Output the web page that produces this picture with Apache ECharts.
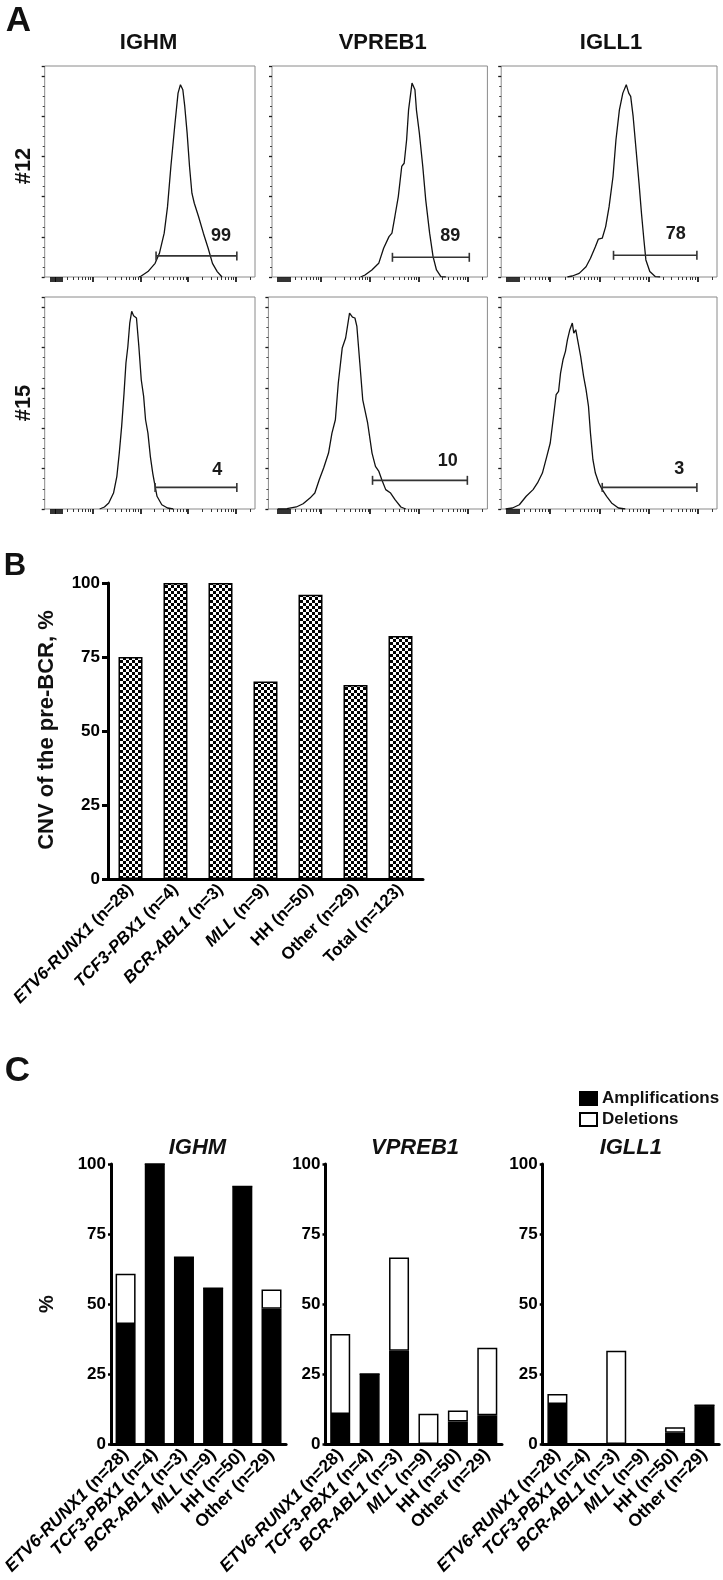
<!DOCTYPE html>
<html><head><meta charset="utf-8">
<script src="https://cdn.jsdelivr.net/npm/echarts@6/dist/echarts.min.js"></script>
<style>html,body{margin:0;padding:0;background:#fff}#c{width:723px;height:1580px}</style>
</head><body><div id="c"></div>
<script>
// ---------- Panel A : flow histograms (x = log decades, y = % of max) ----------
const flowGenes = ['IGHM', 'VPREB1', 'IGLL1'];
const flowSamples = ['#12', '#15'];
const flowMajorTicks = [1.12, 1.16, 1.2, 1.24, 1.28, 1.32, 1.36, 2, 3, 4, 5];
const flowMinorTicks = [1.477, 1.602, 1.699, 1.778, 1.845, 1.903, 1.954,
  2.301, 2.477, 2.602, 2.699, 2.778, 2.845, 2.903, 2.954,
  3.301, 3.477, 3.602, 3.699, 3.778, 3.845, 3.903, 3.954,
  4.301, 4.477, 4.602, 4.699, 4.778, 4.845, 4.903, 4.954, 5.301];

const ighm12X = [2.97, 3.02, 3.16, 3.31, 3.40, 3.50, 3.57, 3.64, 3.72, 3.79, 3.84, 3.89, 3.93, 3.98, 4.03, 4.08, 4.13, 4.22, 4.32, 4.42, 4.51, 4.61, 4.71];
const ighm12Y = [0, 0.5, 2.7, 6.8, 11.8, 21.8, 35, 55, 75, 91.5, 95.7, 93.2, 85, 71.6, 55, 41.7, 36.7, 30, 21.8, 14.3, 6.8, 2.7, 0];
const vpreb112X = [2.81, 2.90, 3.04, 3.18, 3.28, 3.32, 3.39, 3.45, 3.51, 3.58, 3.65, 3.70, 3.75, 3.79, 3.86, 3.92, 3.95, 4.01, 4.08, 4.14, 4.22, 4.29, 4.36, 4.45, 4.55];
const vpreb112Y = [0, 1, 3.5, 6.8, 14.3, 15.1, 20.1, 21.8, 30.1, 40, 55, 56.6, 68.3, 83.2, 96.5, 93.2, 83.2, 71.6, 55, 38.4, 21.8, 10.1, 3.5, 0.2, 0];
const igll112X = [2.35, 2.45, 2.59, 2.73, 2.82, 2.92, 2.98, 3.06, 3.13, 3.20, 3.28, 3.34, 3.41, 3.48, 3.55, 3.60, 3.64, 3.69, 3.75, 3.81, 3.86, 3.91, 3.95, 4.03, 4.14, 4.24];
const igll112Y = [0, 0.5, 1.8, 5.1, 9.3, 15.1, 18.8, 19.3, 25.1, 35, 50, 68.3, 83.2, 91.5, 95.7, 91.5, 89.9, 79.9, 63.3, 46.7, 31.7, 18.4, 8.5, 2.7, 0.2, 0];
const ighm15X = [2.15, 2.25, 2.34, 2.44, 2.51, 2.56, 2.61, 2.66, 2.70, 2.74, 2.78, 2.82, 2.86, 2.89, 2.92, 2.97, 3.02, 3.07, 3.11, 3.16, 3.21, 3.26, 3.31, 3.35, 3.45, 3.57, 3.69];
const ighm15Y = [0, 1, 3, 7.9, 16.2, 27.7, 40.9, 57.4, 72.3, 80.5, 92.1, 97.9, 95.7, 96.2, 94.6, 80.5, 64, 55.8, 44.2, 37.6, 26.1, 17.8, 11.2, 6.3, 2.1, 0.5, 0];
const vpreb115X = [1.11, 1.30, 1.49, 1.63, 1.77, 1.87, 1.96, 2.05, 2.15, 2.22, 2.29, 2.35, 2.43, 2.50, 2.58, 2.64, 2.69, 2.73, 2.79, 2.85, 2.95, 3.04, 3.11, 3.18, 3.24, 3.32, 3.42, 3.51, 3.63, 3.73];
const vpreb115Y = [0, 0.2, 1, 2.6, 5.4, 7.9, 14.5, 20.3, 27.7, 37.6, 44.2, 62.4, 79.7, 84.7, 97, 95, 94.6, 90.4, 72.3, 54.1, 42.6, 27.7, 21.1, 18.6, 14.5, 9.6, 7.9, 4.6, 1, 0];
const igll115X = [1.09, 1.23, 1.37, 1.51, 1.65, 1.74, 1.84, 1.93, 2.00, 2.05, 2.12, 2.17, 2.21, 2.26, 2.31, 2.35, 2.40, 2.45, 2.48, 2.52, 2.56, 2.62, 2.68, 2.73, 2.78, 2.82, 2.87, 2.92, 2.99, 3.06, 3.15, 3.25, 3.39, 3.53];
const igll115Y = [0, 0.5, 2.1, 6.3, 9.6, 12.9, 17.8, 26.1, 32.7, 42.6, 56.6, 58.3, 67.3, 73.9, 78.1, 83.8, 88.8, 92.1, 87.1, 88.8, 88.8, 75.6, 65.7, 59.1, 50.8, 37.6, 24.4, 17.8, 12.9, 9.6, 6.3, 3, 0.5, 0];

const gateStart = [3.33, 3.46, 3.29, 3.31, 3.05, 3.06];
const gateEnd = [5.02, 5.03, 4.99, 5.02, 4.99, 4.99];
const gateLevel = [10.5, 9.8, 10.8, 10.7, 14.2, 10.7];
const gatePct = ['99', '89', '78', '4', '10', '3'];
const gateLabelX = [4.69, 4.64, 4.56, 4.61, 4.59, 4.63];
const gateLabelY = [20.5, 20.3, 21.3, 19.5, 23.6, 19.8];

// ---------- Panel B ----------
const bGroups = ['ETV6-RUNX1', 'TCF3-PBX1', 'BCR-ABL1', 'MLL', 'HH', 'Other', 'Total'];
const bN = [28, 4, 3, 9, 50, 29, 123];
const bItalic = [true, true, true, true, false, false, false];
const bValues = [75, 100, 100, 66.7, 96, 65.5, 82.1];
const pctTicks = [0, 25, 50, 75, 100];

// ---------- Panel C ----------
const cGenes = ['IGHM', 'VPREB1', 'IGLL1'];
const cGroups = ['ETV6-RUNX1', 'TCF3-PBX1', 'BCR-ABL1', 'MLL', 'HH', 'Other'];
const cN = [28, 4, 3, 9, 50, 29];
const ighmAmp = [42.9, 100, 66.7, 55.6, 92, 48.3];
const ighmDel = [17.9, 0, 0, 0, 0, 6.9];
const vpreb1Amp = [10.7, 25, 33.3, 0, 8, 10.3];
const vpreb1Del = [28.6, 0, 33.3, 10.8, 4, 24.1];
const igll1Amp = [14.3, 0, 0, 0, 4, 13.8];
const igll1Del = [3.6, 0, 33.3, 0, 2, 0];

// ---------- build ----------
const FF = '"Liberation Sans", Arial, Helvetica, sans-serif';
const grids = [], xAxes = [], yAxes = [], series = [];

const flowXs = [ighm12X, vpreb112X, igll112X, ighm15X, vpreb115X, igll115X];
const flowYs = [ighm12Y, vpreb112Y, igll112Y, ighm15Y, vpreb115Y, igll115Y];
const flowLayout = [[44.7, 66, 210.3, 211], [272, 66, 215.4, 211], [501.2, 66, 215.8, 211],
                    [44.7, 297, 210.3, 212], [268.4, 297, 219, 212], [501.2, 297, 215.8, 212]];
const flowXMin = [1, 1, 1, 1, 0.92, 1];

flowLayout.forEach((L, i) => {
  grids.push({left: L[0], top: L[1], width: L[2], height: L[3], show: true, borderColor: '#8a8a8a', borderWidth: 1});
  const base = {gridIndex: i, type: 'value', min: flowXMin[i], max: 5.4, position: 'bottom',
    axisLine: {show: false}, axisLabel: {show: false}, splitLine: {show: false}};
  xAxes.push(Object.assign({}, base, {axisTick: {show: true, customValues: flowMajorTicks, length: 5, lineStyle: {color: '#000', width: 1.6}}}));
  xAxes.push(Object.assign({}, base, {axisTick: {show: true, customValues: flowMinorTicks, length: 3, lineStyle: {color: '#333', width: 1}}}));
  yAxes.push({gridIndex: i, type: 'value', min: 0, max: 105, interval: 20,
    axisLine: {show: false}, axisLabel: {show: false}, splitLine: {show: false},
    axisTick: {show: true, length: 3, lineStyle: {color: '#1a1a1a', width: 1.3}},
    minorTick: {show: true, splitNumber: 4, length: 2, lineStyle: {color: '#444', width: 1}},
    minorSplitLine: {show: false}});
  series.push({type: 'line', xAxisIndex: 2 * i, yAxisIndex: i,
    data: flowXs[i].map((x, k) => [x, flowYs[i][k]]), symbol: 'none',
    lineStyle: {color: '#111', width: 1.3}, silent: true});
  series.push({type: 'line', xAxisIndex: 2 * i, yAxisIndex: i,
    data: [[gateStart[i], gateLevel[i]], [gateEnd[i], gateLevel[i]]],
    symbol: 'rect', symbolSize: [1.6, 9], showSymbol: true,
    itemStyle: {color: '#333'}, lineStyle: {color: '#333', width: 1.6}, silent: true});
});

function richFmt(size) {
  return {
    i: {fontStyle: 'italic', fontWeight: 'bold', fontSize: size, fontFamily: FF, color: '#000'},
    n: {fontWeight: 'bold', fontSize: size, fontFamily: FF, color: '#000'}
  };
}
function catFormatter(italicSet) {
  return function (v) {
    const p = v.indexOf(' (');
    const g = v.slice(0, p), r = v.slice(p);
    return italicSet.indexOf(g) >= 0 ? '{i|' + g + '}{n|' + r + '}' : '{n|' + v + '}';
  };
}
const italicNames = bGroups.filter((g, k) => bItalic[k]);

// checker pattern
const pc = document.createElement('canvas');
pc.width = 6; pc.height = 6;
const pg = pc.getContext('2d');
pg.fillStyle = '#fff'; pg.fillRect(0, 0, 6, 6);
pg.fillStyle = '#000'; pg.fillRect(0, 0, 3, 3); pg.fillRect(3, 3, 3, 3);

// Panel B (grid 6)
grids.push({left: 108, top: 583, width: 315, height: 296});
xAxes.push({gridIndex: 6, type: 'category', data: bGroups.map((g, k) => g + ' (n=' + bN[k] + ')'),
  axisLine: {lineStyle: {color: '#000', width: 3}},
  axisTick: {alignWithLabel: true, length: 6, lineStyle: {color: '#000', width: 3}},
  axisLabel: {interval: 0, rotate: 45, margin: 8, formatter: catFormatter(italicNames), rich: richFmt(17)}});
yAxes.push({gridIndex: 6, type: 'value', min: pctTicks[0], max: pctTicks[4], interval: 25,
  axisLine: {show: true, lineStyle: {color: '#000', width: 3}},
  axisTick: {show: true, length: 6, lineStyle: {color: '#000', width: 3}},
  axisLabel: {margin: 8, fontSize: 17, fontWeight: 'bold', fontFamily: FF, color: '#000'},
  splitLine: {show: false}});
series.push({type: 'bar', xAxisIndex: 12, yAxisIndex: 6, data: bValues, barWidth: 24,
  itemStyle: {color: {image: pc, repeat: 'repeat'}, borderColor: '#000', borderWidth: 1.5}, silent: true});

// Panel C (grids 7-9)
const cLayout = [[109.3, 176.8], [325.5, 176.5], [542.7, 176.5]];
const cAmp = [ighmAmp, vpreb1Amp, igll1Amp];
const cDel = [ighmDel, vpreb1Del, igll1Del];
cLayout.forEach((L, j) => {
  const gi = 7 + j;
  grids.push({left: L[0], top: 1164, width: L[1], height: 280});
  xAxes.push({gridIndex: gi, type: 'category', data: cGroups.map((g, k) => g + ' (n=' + cN[k] + ')'),
    axisLine: {lineStyle: {color: '#000', width: 3}},
    axisTick: {alignWithLabel: true, length: 6, lineStyle: {color: '#000', width: 2.5}},
    axisLabel: {interval: 0, rotate: 45, margin: 8, formatter: catFormatter(italicNames), rich: richFmt(17.5)}});
  yAxes.push({gridIndex: gi, type: 'value', min: 0, max: 100, interval: 25,
    axisLine: {show: true, lineStyle: {color: '#000', width: 3}},
    axisTick: {show: true, length: 3, lineStyle: {color: '#000', width: 2.5}},
    axisLabel: {margin: 5, fontSize: 17, fontWeight: 'bold', fontFamily: FF, color: '#000'},
    splitLine: {show: false}});
  series.push({name: 'Amplifications', type: 'bar', stack: 's' + j, xAxisIndex: 13 + j, yAxisIndex: gi,
    data: cAmp[j], barWidth: 20, itemStyle: {color: '#000', borderColor: '#000', borderWidth: 1.5}, silent: true});
  series.push({name: 'Deletions', type: 'bar', stack: 's' + j, xAxisIndex: 13 + j, yAxisIndex: gi,
    data: cDel[j], barWidth: 20, itemStyle: {color: '#fff', borderColor: '#000', borderWidth: 1.5}, silent: true});
});

function gtext(text, x, y, size, o) {
  o = o || {};
  return {type: 'text', x: x, y: y, rotation: o.rot || 0, scaleX: o.sx || 1, silent: true, z: 10,
    style: {text: text, fontSize: size, fontWeight: 'bold', fontStyle: o.italic ? 'italic' : 'normal',
      fontFamily: FF, fill: o.color || '#111', align: 'center', verticalAlign: 'middle'}};
}
const R = Math.PI / 2;
const gElems = [
  gtext('A', 18.5, 21, 35),
  gtext(flowGenes[0], 148.5, 43, 22),
  gtext(flowGenes[1], 382.7, 43, 22),
  gtext(flowGenes[2], 611, 43, 22),
  gtext(flowSamples[0], 23.5, 166, 22, {rot: R}),
  gtext(flowSamples[1], 23.5, 403, 22, {rot: R}),
  gtext('B', 15, 566, 31),
  gtext('CNV of the pre-BCR, %', 47, 730, 22, {rot: R}),
  gtext('C', 17.5, 1071, 35),
  gtext(cGenes[0], 197.4, 1148, 22, {italic: true}),
  gtext(cGenes[1], 415, 1148, 22, {italic: true}),
  gtext(cGenes[2], 630.8, 1148, 22, {italic: true}),
  gtext('%', 47, 1304, 20, {rot: R})
];

const chart = echarts.init(document.getElementById('c'), null, {renderer: 'canvas'});
chart.setOption({
  animation: false,
  backgroundColor: '#fff',
  grid: grids, xAxis: xAxes, yAxis: yAxes, series: series,
  legend: {data: ['Amplifications', 'Deletions'], orient: 'vertical', left: 574, top: 1085,
    itemWidth: 17, itemHeight: 13, itemGap: 4, icon: 'rect', selectedMode: false,
    textStyle: {fontSize: 17, fontWeight: 'bold', fontFamily: FF, color: '#111'}},
  graphic: {elements: gElems}
});
// gate percentage labels, placed through the grid's own scales
const gateLabels = gatePct.map((t, i) => {
  const p = chart.convertToPixel({gridIndex: i}, [gateLabelX[i], gateLabelY[i]]);
  return gtext(t, p[0], p[1], 18, {color: '#1a1a1a'});
});
chart.setOption({graphic: {elements: gElems.concat(gateLabels)}});
</script></body></html>
